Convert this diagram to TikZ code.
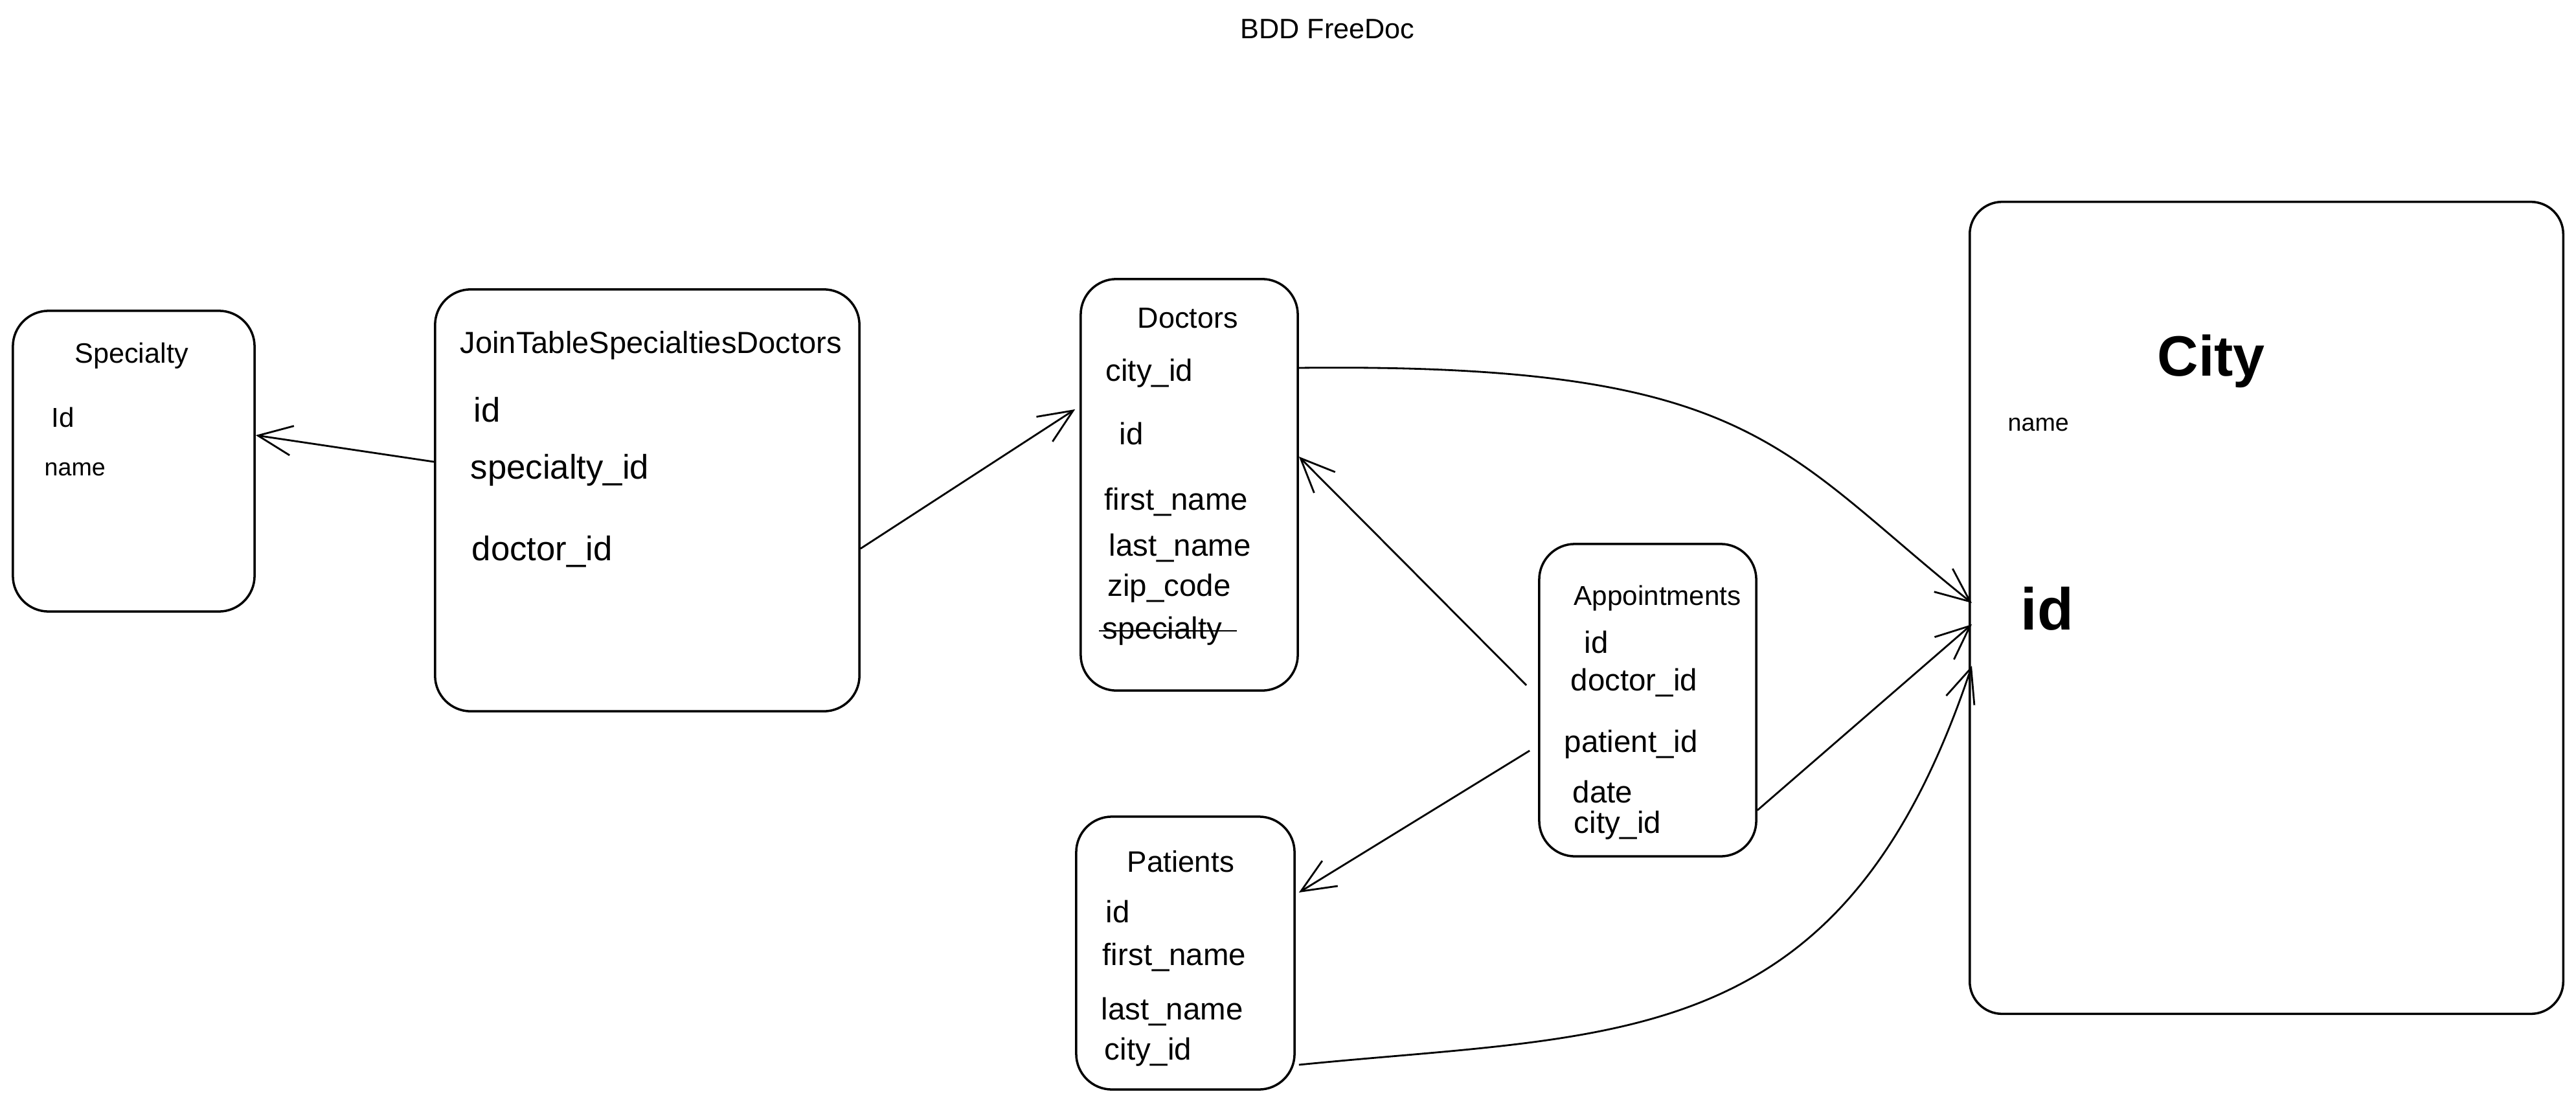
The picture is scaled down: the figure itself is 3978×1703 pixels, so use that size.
\documentclass[tikz,border=0pt]{standalone}
\usepackage{fontspec}
\setmainfont{Liberation Sans}
\usetikzlibrary{arrows.meta,calc}
\begin{document}
\begin{tikzpicture}[x=0.01cm,y=-0.01cm,
  box/.style={draw, line width=1pt, rounded corners=0.55cm, inner sep=0pt, anchor=center},
  txt/.style={inner sep=0pt, anchor=base west},
  fs/.style={font=\fontsize{#1}{#1}\selectfont},
  conn/.style={line width=0.8pt, -{Straight Barb[length=15pt,width=13pt]}}]
\useasboundingbox (0,0) rectangle (3978,1703);

% title
\node[inner sep=0pt, anchor=base, fs=12.3] (title) at (2050,60) {BDD FreeDoc};

% boxes
\node[box, minimum width=3.73cm, minimum height=4.64cm] (spec) at (206.5,712) {};
\node[box, minimum width=6.55cm, minimum height=6.51cm] (join) at (999.5,772.5) {};
\node[box, minimum width=3.35cm, minimum height=6.35cm] (doc) at (1836.5,748.5) {};
\node[box, minimum width=3.35cm, minimum height=4.82cm] (appt) at (2544.5,1081) {};
\node[box, minimum width=3.37cm, minimum height=4.21cm] (pat) at (1830.5,1471.5) {};
\node[box, minimum width=9.16cm, minimum height=12.53cm, rounded corners=0.5cm] (city) at (3500,938.5) {};

% Specialty
\node[inner sep=0pt, anchor=base, fs=12.3] (specT) at (203,560) {Specialty};
\node[txt, fs=12] (specId) at (79,659) {Id};
\node[txt, fs=10.7] (specName) at (68,734) {name};

% JoinTable
\node[txt, fs=13.4] (joinT) at (710,545) {JoinTableSpecialtiesDoctors};
\node[txt, fs=15] (joinId) at (731,651) {id};
\node[txt, fs=15] (joinSp) at (726,739) {specialty\_id};
\node[txt, fs=15] (joinDoc) at (728,865) {doctor\_id};

% Doctors
\node[txt, fs=12.8] (docT) at (1756,506) {Doctors};
\node[txt, fs=13.5] (docCity) at (1707,588) {city\_id};
\node[txt, fs=13.5] (docId) at (1728,686) {id};
\node[txt, fs=13.5] (docFn) at (1705,787) {first\_name};
\node[txt, fs=13.5] (docLn) at (1712,858) {last\_name};
\node[txt, fs=13.5] (docZip) at (1710,920) {zip\_code};
\node[txt, fs=13.5] (docSpec) at (1702,986) {specialty};
\draw[line width=0.8pt] ($(docSpec.base west)+(-5,-12)$) -- ($(docSpec.base east)+(22,-12)$);

% Appointments
\node[txt, fs=12] (apT) at (2430,934) {Appointments};
\node[txt, fs=13.5] (apId) at (2446,1008) {id};
\node[txt, fs=13.5] (apDoc) at (2425,1066) {doctor\_id};
\node[txt, fs=13.5] (apPat) at (2415,1161) {patient\_id};
\node[txt, fs=13.5] (apDate) at (2428,1239) {date};
\node[txt, fs=13.5] (apCity) at (2430,1286) {city\_id};

% Patients
\node[txt, fs=13] (patT) at (1740,1346) {Patients};
\node[txt, fs=13.5] (patId) at (1707,1424) {id};
\node[txt, fs=13.5] (patFn) at (1702,1490) {first\_name};
\node[txt, fs=13.5] (patLn) at (1700,1574) {last\_name};
\node[txt, fs=13.5] (patCity) at (1705,1636) {city\_id};

% City
\node[txt, fs=25] (cityT) at (3331,580) {\bfseries City};
\node[txt, fs=10.7] (cityName) at (3100,665) {name};
\node[txt, fs=26] (cityId) at (3120,972) {\bfseries id};

% connectors
\draw[conn] ($(join.west)+(0,-59.5)$) -- ($(spec.east)+(0,-40)$);
\draw[conn] ($(join.east)+(0,74.5)$) -- ($(doc.west)+(-7,-116.5)$);
\draw[conn] ($(doc.east)+(0,-180.5)$) .. controls +(700,-8) and +(-300,-240) .. ($(city.west)+(5,-7.5)$);
\draw[conn] ($(appt.west)+(-18,-23)$) -- ($(doc.east)+(0,-43.5)$);
\draw[conn] ($(appt.west)+(-13,78)$) -- ($(pat.east)+(5,-93.5)$);
\draw[conn] ($(appt.east)+(0,170)$) -- ($(city.west)+(5,25.5)$);
\draw[conn] ($(pat.east)+(5,172.5)$) .. controls +(500,-50) and +(-200,600) .. ($(city.west)+(5,89.5)$);
\end{tikzpicture}
\end{document}
